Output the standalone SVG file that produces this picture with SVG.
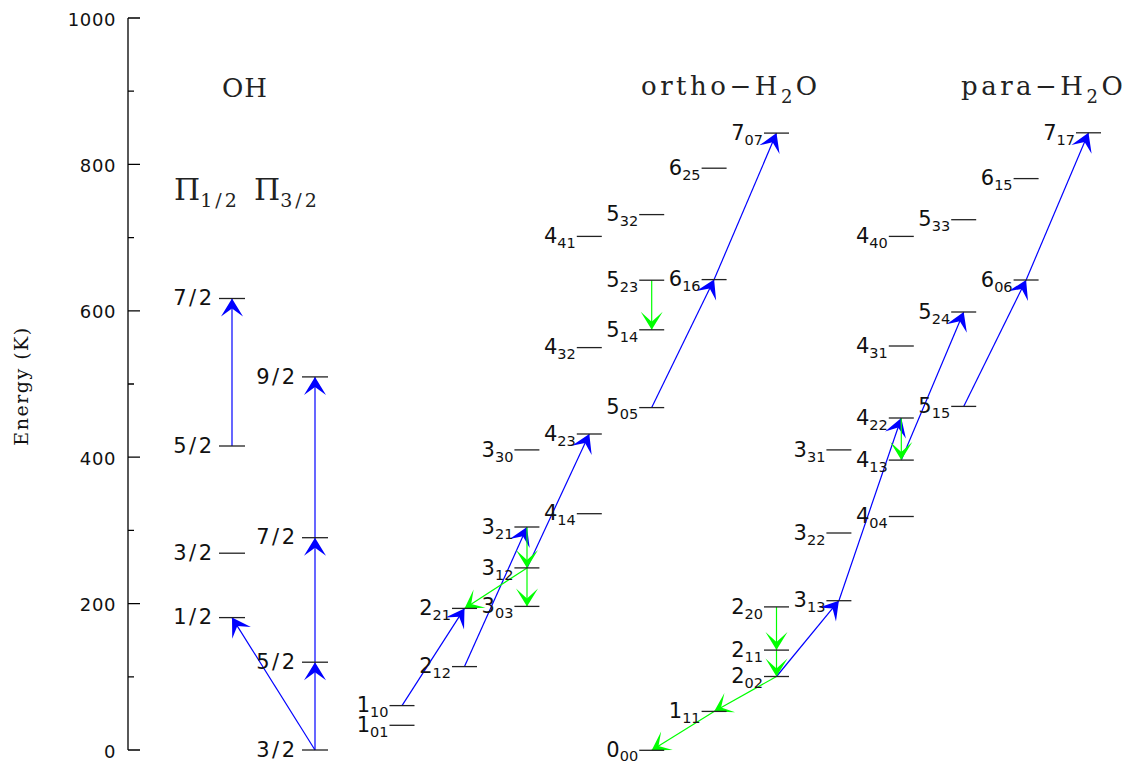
<svg xmlns="http://www.w3.org/2000/svg" width="1130" height="762" viewBox="0 0 1130 762">
<style>
.ax{stroke:#000;stroke-width:1.3;fill:none}
.lvl{stroke:#222;stroke-width:1.3}
.lab{font-family:"DejaVu Sans",sans-serif;font-size:21px;fill:#111;text-anchor:end}
.oh{letter-spacing:2.5px}
.sub{font-size:14.5px}
.tick{font-family:"DejaVu Sans",sans-serif;font-size:18px;fill:#111;text-anchor:end;letter-spacing:0.6px}
.ttl{font-family:"DejaVu Serif",serif;font-size:26px;fill:#222;letter-spacing:3.5px}
.b{stroke:#0000ff;stroke-width:1.2;fill:none;marker-end:url(#ab)}
.g{stroke:#00ff00;stroke-width:1.2;fill:none;marker-end:url(#ag)}
</style>
<defs>
<marker id="ab" markerUnits="userSpaceOnUse" orient="auto" refX="0" refY="0" markerWidth="40" markerHeight="40" style="overflow:visible">
<path d="M0,0 L-18,-11 L-10,0 L-18,11 Z" fill="#0000ff"/>
</marker>
<marker id="ag" markerUnits="userSpaceOnUse" orient="auto" refX="0" refY="0" markerWidth="40" markerHeight="40" style="overflow:visible">
<path d="M0,0 L-18,-11 L-8,0 L-18,11 Z" fill="#00ff00"/>
</marker>
</defs>
<rect width="1130" height="762" fill="#fff"/>

<g id="axis">
<path class="ax" d="M128,18 V750 M128,18 H140 M128,164.4 H140 M128,310.8 H140 M128,457.2 H140 M128,603.6 H140 M128,750 H140 M128,91.2 H134 M128,237.6 H134 M128,384 H134 M128,530.4 H134 M128,676.8 H134"/>
<text class="tick" x="116" y="25.5">1000</text>
<text class="tick" x="116" y="171.9">800</text>
<text class="tick" x="116" y="318.3">600</text>
<text class="tick" x="116" y="464.7">400</text>
<text class="tick" x="116" y="611.1">200</text>
<text class="tick" x="116" y="757.5">0</text>
<text transform="translate(28,386) rotate(-90)" text-anchor="middle" style="font-family:'DejaVu Serif',serif;font-size:19px;fill:#111;letter-spacing:1.5px">Energy (K)</text>
</g>

<g id="titles">
<text class="ttl" x="245" y="96.5" text-anchor="middle" style="letter-spacing:1px">OH</text>
<text class="ttl" x="174" y="199.5" style="font-size:30px;letter-spacing:0">Π<tspan dy="7" style="font-size:19px;letter-spacing:3px">1/2</tspan></text>
<text class="ttl" x="254" y="199.5" style="font-size:30px;letter-spacing:0">Π<tspan dy="7" style="font-size:19px;letter-spacing:3px">3/2</tspan></text>
<text class="ttl" x="641" y="95">ortho−H<tspan dy="8" style="font-size:18px">2</tspan><tspan dy="-8">O</tspan></text>
<text class="ttl" x="961" y="95">para−H<tspan dy="8" style="font-size:18px">2</tspan><tspan dy="-8">O</tspan></text>
</g>

<g id="connectors">
<line class="b" x1="232" y1="446" x2="232" y2="298.5"/>
<line class="b" x1="315" y1="750" x2="315" y2="662.2"/>
<line class="b" x1="315" y1="662.2" x2="315" y2="537.7"/>
<line class="b" x1="315" y1="537.7" x2="315" y2="376.9"/>
<line class="b" x1="315" y1="750" x2="232" y2="617.6"/>
<line class="b" x1="402" y1="705.6" x2="464.5" y2="608.4"/>
<line class="b" x1="464.5" y1="666.6" x2="527" y2="527"/>
<line class="b" x1="527" y1="567.9" x2="589.3" y2="434"/>
<line class="b" x1="651.7" y1="407.6" x2="714.1" y2="279.6"/>
<line class="b" x1="714.1" y1="279.6" x2="776.5" y2="133.1"/>
<line class="b" x1="776.5" y1="676.5" x2="838.9" y2="600.7"/>
<line class="b" x1="838.9" y1="600.7" x2="901.3" y2="418"/>
<line class="b" x1="901.3" y1="460.1" x2="963.7" y2="312"/>
<line class="b" x1="963.7" y1="406.4" x2="1026.1" y2="280"/>
<line class="b" x1="1026.1" y1="280" x2="1088.5" y2="132.8"/>
<line class="g" x1="527" y1="527" x2="527" y2="567.9"/>
<line class="g" x1="527" y1="567.9" x2="527" y2="606.4"/>
<line class="g" x1="527" y1="567.9" x2="464.5" y2="608.4"/>
<line class="g" x1="651.7" y1="280.2" x2="651.7" y2="329.8"/>
<line class="g" x1="901.3" y1="418" x2="901.3" y2="460.1"/>
<line class="g" x1="776.5" y1="606.9" x2="776.5" y2="650.1"/>
<line class="g" x1="776.5" y1="650.1" x2="776.5" y2="676.5"/>
<line class="g" x1="776.5" y1="676.5" x2="714.1" y2="711.4"/>
<line class="g" x1="714.1" y1="711.4" x2="651.7" y2="750.3"/>
</g>

<g id="oh-p12-72"><line class="lvl" x1="219" y1="298.5" x2="245" y2="298.5"/><text class="lab oh" x="214.5" y="305.2">7/2</text></g>
<g id="oh-p12-52"><line class="lvl" x1="219" y1="446" x2="245" y2="446"/><text class="lab oh" x="214.5" y="452.7">5/2</text></g>
<g id="oh-p12-32"><line class="lvl" x1="219" y1="553.2" x2="245" y2="553.2"/><text class="lab oh" x="214.5" y="559.9">3/2</text></g>
<g id="oh-p12-12"><line class="lvl" x1="219" y1="617.6" x2="245" y2="617.6"/><text class="lab oh" x="214.5" y="624.3">1/2</text></g>
<g id="oh-p32-92"><line class="lvl" x1="302" y1="376.9" x2="328" y2="376.9"/><text class="lab oh" x="297.5" y="383.6">9/2</text></g>
<g id="oh-p32-72"><line class="lvl" x1="302" y1="537.7" x2="328" y2="537.7"/><text class="lab oh" x="297.5" y="544.4">7/2</text></g>
<g id="oh-p32-52"><line class="lvl" x1="302" y1="662.2" x2="328" y2="662.2"/><text class="lab oh" x="297.5" y="668.9">5/2</text></g>
<g id="oh-p32-32"><line class="lvl" x1="302" y1="750" x2="328" y2="750"/><text class="lab oh" x="297.5" y="756.7">3/2</text></g>

<g id="o101"><line class="lvl" x1="389.5" y1="725.3" x2="414.5" y2="725.3"/><text class="lab" x="388.5" y="732">1<tspan class="sub" dy="5">01</tspan></text></g>
<g id="o110"><line class="lvl" x1="389.5" y1="705.6" x2="414.5" y2="705.6"/><text class="lab" x="388.5" y="712.3">1<tspan class="sub" dy="5">10</tspan></text></g>
<g id="o212"><line class="lvl" x1="452" y1="666.6" x2="477" y2="666.6"/><text class="lab" x="451" y="673.3">2<tspan class="sub" dy="5">12</tspan></text></g>
<g id="o221"><line class="lvl" x1="452" y1="608.4" x2="477" y2="608.4"/><text class="lab" x="451" y="615.1">2<tspan class="sub" dy="5">21</tspan></text></g>
<g id="o303"><line class="lvl" x1="514.4" y1="606.4" x2="539.4" y2="606.4"/><text class="lab" x="513.4" y="613.1">3<tspan class="sub" dy="5">03</tspan></text></g>
<g id="o312"><line class="lvl" x1="514.4" y1="567.9" x2="539.4" y2="567.9"/><text class="lab" x="513.4" y="574.6">3<tspan class="sub" dy="5">12</tspan></text></g>
<g id="o321"><line class="lvl" x1="514.4" y1="527" x2="539.4" y2="527"/><text class="lab" x="513.4" y="533.7">3<tspan class="sub" dy="5">21</tspan></text></g>
<g id="o330"><line class="lvl" x1="514.4" y1="449.9" x2="539.4" y2="449.9"/><text class="lab" x="513.4" y="456.6">3<tspan class="sub" dy="5">30</tspan></text></g>
<g id="o414"><line class="lvl" x1="576.8" y1="513.7" x2="601.8" y2="513.7"/><text class="lab" x="575.8" y="520.4">4<tspan class="sub" dy="5">14</tspan></text></g>
<g id="o423"><line class="lvl" x1="576.8" y1="434" x2="601.8" y2="434"/><text class="lab" x="575.8" y="440.7">4<tspan class="sub" dy="5">23</tspan></text></g>
<g id="o432"><line class="lvl" x1="576.8" y1="347.6" x2="601.8" y2="347.6"/><text class="lab" x="575.8" y="354.3">4<tspan class="sub" dy="5">32</tspan></text></g>
<g id="o441"><line class="lvl" x1="576.8" y1="236.4" x2="601.8" y2="236.4"/><text class="lab" x="575.8" y="243.1">4<tspan class="sub" dy="5">41</tspan></text></g>
<g id="o505"><line class="lvl" x1="639.2" y1="407.6" x2="664.2" y2="407.6"/><text class="lab" x="638.2" y="414.3">5<tspan class="sub" dy="5">05</tspan></text></g>
<g id="o514"><line class="lvl" x1="639.2" y1="329.8" x2="664.2" y2="329.8"/><text class="lab" x="638.2" y="336.5">5<tspan class="sub" dy="5">14</tspan></text></g>
<g id="o523"><line class="lvl" x1="639.2" y1="280.2" x2="664.2" y2="280.2"/><text class="lab" x="638.2" y="286.9">5<tspan class="sub" dy="5">23</tspan></text></g>
<g id="o532"><line class="lvl" x1="639.2" y1="214.6" x2="664.2" y2="214.6"/><text class="lab" x="638.2" y="221.3">5<tspan class="sub" dy="5">32</tspan></text></g>
<g id="o616"><line class="lvl" x1="701.6" y1="279.6" x2="726.6" y2="279.6"/><text class="lab" x="700.6" y="286.3">6<tspan class="sub" dy="5">16</tspan></text></g>
<g id="o625"><line class="lvl" x1="701.6" y1="168.2" x2="726.6" y2="168.2"/><text class="lab" x="700.6" y="174.9">6<tspan class="sub" dy="5">25</tspan></text></g>
<g id="o707"><line class="lvl" x1="764" y1="133.1" x2="789" y2="133.1"/><text class="lab" x="763" y="139.8">7<tspan class="sub" dy="5">07</tspan></text></g>

<g id="p000"><line class="lvl" x1="639.2" y1="750.3" x2="664.2" y2="750.3"/><text class="lab" x="638.2" y="756.5">0<tspan class="sub" dy="4.5">00</tspan></text></g>
<g id="p111"><line class="lvl" x1="701.6" y1="711.4" x2="726.6" y2="711.4"/><text class="lab" x="700.6" y="718.1">1<tspan class="sub" dy="5">11</tspan></text></g>
<g id="p202"><line class="lvl" x1="764" y1="676.5" x2="789" y2="676.5"/><text class="lab" x="763" y="683.2">2<tspan class="sub" dy="5">02</tspan></text></g>
<g id="p211"><line class="lvl" x1="764" y1="650.1" x2="789" y2="650.1"/><text class="lab" x="763" y="656.8">2<tspan class="sub" dy="5">11</tspan></text></g>
<g id="p220"><line class="lvl" x1="764" y1="606.9" x2="789" y2="606.9"/><text class="lab" x="763" y="613.6">2<tspan class="sub" dy="5">20</tspan></text></g>
<g id="p313"><line class="lvl" x1="826.4" y1="600.7" x2="851.4" y2="600.7"/><text class="lab" x="825.4" y="607.4">3<tspan class="sub" dy="5">13</tspan></text></g>
<g id="p322"><line class="lvl" x1="826.4" y1="533" x2="851.4" y2="533"/><text class="lab" x="825.4" y="539.7">3<tspan class="sub" dy="5">22</tspan></text></g>
<g id="p331"><line class="lvl" x1="826.4" y1="449.9" x2="851.4" y2="449.9"/><text class="lab" x="825.4" y="456.6">3<tspan class="sub" dy="5">31</tspan></text></g>
<g id="p404"><line class="lvl" x1="888.8" y1="516.5" x2="913.8" y2="516.5"/><text class="lab" x="887.8" y="523.2">4<tspan class="sub" dy="5">04</tspan></text></g>
<g id="p413"><line class="lvl" x1="888.8" y1="460.1" x2="913.8" y2="460.1"/><text class="lab" x="887.8" y="466.8">4<tspan class="sub" dy="5">13</tspan></text></g>
<g id="p422"><line class="lvl" x1="888.8" y1="418" x2="913.8" y2="418"/><text class="lab" x="887.8" y="424.7">4<tspan class="sub" dy="5">22</tspan></text></g>
<g id="p431"><line class="lvl" x1="888.8" y1="346" x2="913.8" y2="346"/><text class="lab" x="887.8" y="352.7">4<tspan class="sub" dy="5">31</tspan></text></g>
<g id="p440"><line class="lvl" x1="888.8" y1="236.4" x2="913.8" y2="236.4"/><text class="lab" x="887.8" y="243.1">4<tspan class="sub" dy="5">40</tspan></text></g>
<g id="p515"><line class="lvl" x1="951.2" y1="406.4" x2="976.2" y2="406.4"/><text class="lab" x="950.2" y="413.1">5<tspan class="sub" dy="5">15</tspan></text></g>
<g id="p524"><line class="lvl" x1="951.2" y1="312" x2="976.2" y2="312"/><text class="lab" x="950.2" y="318.7">5<tspan class="sub" dy="5">24</tspan></text></g>
<g id="p533"><line class="lvl" x1="951.2" y1="219.7" x2="976.2" y2="219.7"/><text class="lab" x="950.2" y="226.4">5<tspan class="sub" dy="5">33</tspan></text></g>
<g id="p606"><line class="lvl" x1="1013.6" y1="280" x2="1038.6" y2="280"/><text class="lab" x="1012.6" y="286.7">6<tspan class="sub" dy="5">06</tspan></text></g>
<g id="p615"><line class="lvl" x1="1013.6" y1="178.6" x2="1038.6" y2="178.6"/><text class="lab" x="1012.6" y="185.3">6<tspan class="sub" dy="5">15</tspan></text></g>
<g id="p717"><line class="lvl" x1="1076" y1="132.8" x2="1101" y2="132.8"/><text class="lab" x="1075" y="139.5">7<tspan class="sub" dy="5">17</tspan></text></g>
</svg>
